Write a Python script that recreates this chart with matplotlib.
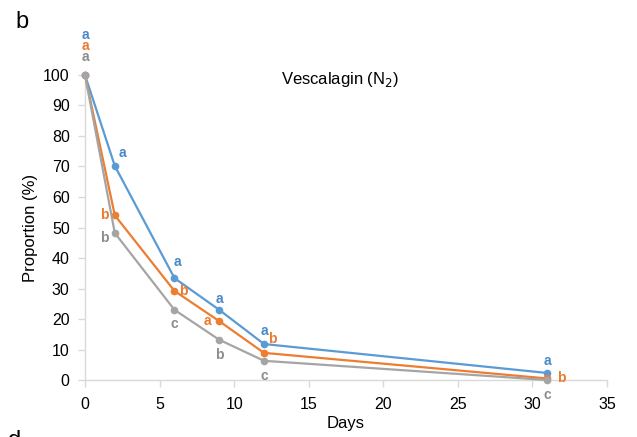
import matplotlib.pyplot as plt

plt.rcParams['font.family'] = ['Liberation Sans', 'DejaVu Sans']

# sampling days and remaining proportion (%) for each series
days = [0, 2, 6, 9, 12, 31]
blue_vals = [100, 70.2, 33.4, 23.0, 11.8, 2.3]
orange_vals = [100, 54.0, 29.2, 19.3, 8.9, 0.5]
gray_vals = [100, 48.2, 23.0, 13.2, 6.3, 0.0]

# significance letters per day
blue_letters = ['a', 'a', 'a', 'a', 'a', 'a']
orange_letters = ['a', 'b', 'b', 'a', 'b', 'b']
gray_letters = ['a', 'b', 'c', 'b', 'c', 'c']

# letter placement relative to each point (pixels)
blue_offsets = [(0, 40), (8, 13), (3, 16), (0, 11), (0, 13), (0, 12)]
orange_offsets = [(0, 29), (-11, 0), (9, 0), (-12, 0), (8, 14), (14, 0)]
gray_offsets = [(0, 18), (-11, -5), (0, -14), (0, -15), (0, -15), (0, -15)]

c_blue = '#5B9BD5'
c_orange = '#ED7D31'
c_gray = '#A5A5A5'
l_blue = '#4A88C8'
l_orange = '#EB7A30'
l_gray = '#8C8C8C'

fig = plt.figure(figsize=(6.37, 4.37), dpi=100)
ax = fig.add_axes([0.1334, 0.1304, 0.8196, 0.698])

series = [
    (blue_vals, c_blue, l_blue, blue_letters, blue_offsets),
    (orange_vals, c_orange, l_orange, orange_letters, orange_offsets),
    (gray_vals, c_gray, l_gray, gray_letters, gray_offsets),
]

for vals, col, lcol, letters, offs in series:
    ax.plot(days, vals, color=col, lw=1.6, marker='o', ms=4.5, clip_on=False, zorder=3)
for vals, col, lcol, letters, offs in series:
    for d, v, t, o in zip(days, vals, letters, offs):
        ax.annotate(t, (d, v), xytext=o, textcoords='offset pixels',
                    ha='center', va='center', color=lcol, fontsize=10,
                    fontweight='bold', annotation_clip=False)

ax.set_xlim(0, 35)
ax.set_ylim(0, 100)
ax.set_xticks(range(0, 36, 5))
ax.set_yticks(range(0, 101, 10))

for s in ['top', 'right']:
    ax.spines[s].set_visible(False)
for s in ['left', 'bottom']:
    ax.spines[s].set_color('#D9D9D9')
    ax.spines[s].set_linewidth(1.0)
ax.tick_params(axis='both', direction='out', length=5, color='#D9D9D9',
               labelsize=11.5, labelcolor='black', width=1.0)
ax.tick_params(axis='x', pad=7)
ax.tick_params(axis='y', pad=6)

ax.set_xlabel('Days', fontsize=12, labelpad=3)
ax.set_ylabel('Proportion (%)', fontsize=12, labelpad=4)
ax.text(0.488, 0.984, 'Vescalagin (N$_2$)', transform=ax.transAxes,
        ha='center', va='center', fontsize=12)

fig.text(22 / 637, 1 - 22 / 437, 'b', fontsize=17, ha='center', va='center')
fig.text(15 / 637, -4 / 437, 'd', fontsize=17, ha='center', va='center')

fig.savefig('out.png', dpi=100)
